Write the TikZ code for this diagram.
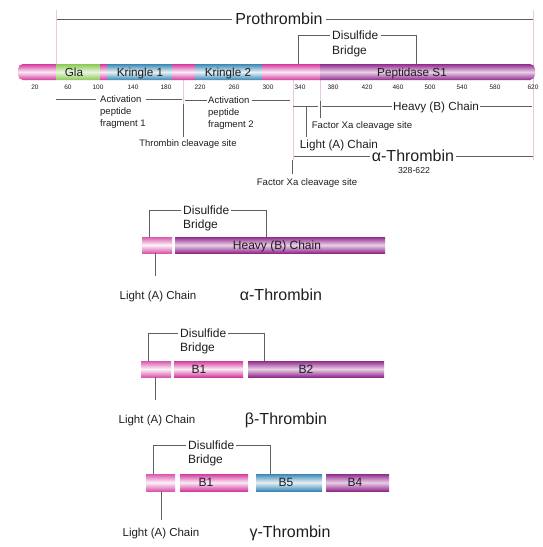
\documentclass[tikz,border=0pt]{standalone}
\usepackage{fontspec}
\setmainfont{Liberation Sans}
\definecolor{pk}{RGB}{212,58,158}
\definecolor{pu}{RGB}{146,42,142}
\definecolor{bl}{RGB}{58,136,182}
\definecolor{gr}{RGB}{138,200,84}
\definecolor{ln}{RGB}{95,95,95}
\definecolor{tx}{RGB}{30,30,30}
\definecolor{fp}{RGB}{242,196,228}
\tikzset{
  lbl/.style={inner sep=0pt, text=tx},
  ft/.style 2 args={font=\fontsize{#1}{#1}\selectfont, text height=#2, text depth=0pt},
  cl/.style={draw=ln, line width=0.6pt},
  fl/.style={draw=fp, line width=0.6pt},
  pbar/.style={top color=pk, bottom color=pk, middle color=pk!10},
  lbar/.style={top color=pk!85, bottom color=pk!85, middle color=pk!6},
  ubar/.style={top color=pu, bottom color=pu, middle color=pu!22},
  bbar/.style={top color=bl, bottom color=bl, middle color=bl!12},
  gbar/.style={top color=gr, bottom color=gr, middle color=gr!18},
}
\begin{document}
\begin{tikzpicture}[x=1pt,y=-1pt]
\useasboundingbox (0,0) rectangle (543,547);
% faint guide lines
\draw[fl] (56,10) -- (56,64);
\draw[fl] (533,10) -- (533,160);
\draw[fl] (183,80) -- (183,104);
\draw[fl] (293,80) -- (293,160);
\draw[fl] (320,80) -- (320,101);
% main bar
\begin{scope}
\clip[rounded corners=5pt] (18,64) rectangle (535,80);
\path[pbar] (18,64) rectangle (56,80);
\path[gbar] (56,64) rectangle (100,80);
\path[pbar] (100,64) rectangle (107,80);
\path[bbar] (107,64) rectangle (172,80);
\path[pbar] (172,64) rectangle (195,80);
\path[bbar] (195,64) rectangle (262,80);
\path[pbar] (262,64) rectangle (320,80);
\path[ubar] (320,64) rectangle (535,80);
\end{scope}
\node[lbl, ft={11.7}{8.4pt}] (gla) at (74,72) {Gla};
\node[lbl, ft={11.7}{8.4pt}] (kr1) at (140,72) {Kringle 1};
\node[lbl, ft={11.7}{8.4pt}] (kr2) at (228,72) {Kringle 2};
\node[lbl, ft={11.7}{8.4pt}] (pep) at (412,72) {Peptidase S1};
% ticks
\foreach \v/\xx in {20/35,60/68,100/98,140/133,180/166,220/200,260/234,300/268,340/300,380/333,420/367,460/398,500/430,540/462,580/495,620/533}
  \node[lbl, ft={6.5}{4.7pt}] (t\v) at (\xx,87) {\v};
% Prothrombin
\node[lbl, ft={16}{11.5pt}, inner xsep=3pt] (pro) at (279,19) {Prothrombin};
\coordinate (proL) at (57,19);
\coordinate (proR) at (533,19);
\draw[cl] (proL) -- (pro.west);
\draw[cl] (pro.east) -- (proR);
% Disulfide bridge (top)
\node[lbl, ft={12}{8.6pt}, anchor=west] (ds0) at (332,35) {Disulfide};
\node[lbl, ft={12}{8.6pt}, anchor=west] (db0) at (332,50) {Bridge};
\coordinate (dsL0) at (298,64);
\coordinate (dsR0) at (416,64);
\draw[cl] (dsL0) |- ([xshift=-2pt]ds0.west);
\draw[cl] ([xshift=3pt]ds0.east) -| (dsR0);
% Activation peptide fragment 1
\node[lbl, ft={9.5}{6.8pt}, anchor=west] (a1) at (100,99) {Activation};
\node[lbl, ft={9.5}{6.8pt}, anchor=west] (a1b) at (100,111) {peptide};
\node[lbl, ft={9.5}{6.8pt}, anchor=west] (a1c) at (100,123) {fragment 1};
\coordinate (a1L) at (56,99);
\coordinate (a1R) at (182,99);
\draw[cl] (a1L) -- ([xshift=-4pt]a1.west);
\draw[cl] ([xshift=4pt]a1.east) -- (a1R);
% Activation peptide fragment 2
\node[lbl, ft={9.5}{6.8pt}, anchor=west] (a2) at (208,100) {Activation};
\node[lbl, ft={9.5}{6.8pt}, anchor=west] (a2b) at (208,112) {peptide};
\node[lbl, ft={9.5}{6.8pt}, anchor=west] (a2c) at (208,124) {fragment 2};
\coordinate (a2L) at (185,100);
\coordinate (a2R) at (290,100);
\draw[cl] (a2L) -- ([xshift=-1pt]a2.west);
\draw[cl] ([xshift=2pt]a2.east) -- (a2R);
% Thrombin cleavage site
\node[lbl, ft={9.4}{6.8pt}] (tcs) at (188,143) {Thrombin cleavage site};
\coordinate (tc1) at (183,104);
\coordinate (tc2) at (183,137);
\draw[cl] (tc1) -- (tc2);
% Heavy (B) chain line
\node[lbl, ft={11.7}{8.4pt}, inner xsep=1pt] (hv) at (436,106) {Heavy (B) Chain};
\coordinate (lcS) at (293,106);
\coordinate (lcE) at (318,106);
\coordinate (hvS) at (322,106);
\coordinate (hvE) at (532,106);
\draw[cl] (lcS) -- (lcE);
\draw[cl] (hvS) -- (hv.west);
\draw[cl] (hv.east) -- (hvE);
% Light (A) chain
\node[lbl, ft={11.7}{8.4pt}] (lc) at (339,144) {Light (A) Chain};
\coordinate (lcA) at (306,106);
\coordinate (lcB) at (306,137);
\draw[cl] (lcA) -- (lcB);
% Factor Xa cleavage site (upper)
\node[lbl, ft={9.6}{6.9pt}] (fx1) at (362,125) {Factor Xa cleavage site};
\coordinate (fx1a) at (320,101);
\coordinate (fx1b) at (320,118);
\draw[cl] (fx1a) -- (fx1b);
% alpha-thrombin range
\node[lbl, ft={16}{11.5pt}, inner xsep=2pt] (ath) at (413,156) {α-Thrombin};
\node[lbl, ft={8.7}{6.2pt}] (rng) at (414,170) {328-622};
\coordinate (athL) at (294,156);
\coordinate (athR) at (533,156);
\draw[cl] (athL) -- (ath.west);
\draw[cl] (ath.east) -- (athR);
% Factor Xa cleavage site (lower)
\node[lbl, ft={9.6}{6.9pt}] (fx2) at (307,182) {Factor Xa cleavage site};
\coordinate (fx2a) at (292,160);
\coordinate (fx2b) at (292,174);
\draw[cl] (fx2a) -- (fx2b);

% ===== alpha-thrombin =====
\path[lbar] (142,237) rectangle (172,253);
\path[ubar] (175,237) rectangle (385,253);
\node[lbl, ft={12}{8.6pt}] (ahv) at (277,245) {Heavy (B) Chain};
\node[lbl, ft={12}{8.6pt}, anchor=west] (ds1) at (183,210) {Disulfide};
\node[lbl, ft={12}{8.6pt}, anchor=west] (db1) at (183,224) {Bridge};
\coordinate (dsL1) at (149,237);
\coordinate (dsR1) at (266,237);
\draw[cl] (dsL1) |- ([xshift=-2pt]ds1.west);
\draw[cl] ([xshift=2pt]ds1.east) -| (dsR1);
\coordinate (lA1) at (155,253);
\coordinate (lB1) at (155,276);
\draw[cl] (lA1) -- (lB1);
\node[lbl, ft={11.5}{8.3pt}] (lt1) at (158,295) {Light (A) Chain};
\node[lbl, ft={16}{11.5pt}] (nm1) at (281,295) {α-Thrombin};

% ===== beta-thrombin =====
\path[lbar] (141,361) rectangle (171,377);
\path[pbar] (174,361) rectangle (243,377);
\path[ubar] (248,361) rectangle (384,377);
\node[lbl, ft={12}{8.6pt}] (b1) at (199,369) {B1};
\node[lbl, ft={12}{8.6pt}] (b2) at (306,369) {B2};
\node[lbl, ft={12}{8.6pt}, anchor=west] (ds2) at (180,333) {Disulfide};
\node[lbl, ft={12}{8.6pt}, anchor=west] (db2) at (180,347) {Bridge};
\coordinate (dsL2) at (148,361);
\coordinate (dsR2) at (264,361);
\draw[cl] (dsL2) |- ([xshift=-2pt]ds2.west);
\draw[cl] ([xshift=2pt]ds2.east) -| (dsR2);
\coordinate (lA2) at (155,377);
\coordinate (lB2) at (155,400);
\draw[cl] (lA2) -- (lB2);
\node[lbl, ft={11.5}{8.3pt}] (lt2) at (157,419) {Light (A) Chain};
\node[lbl, ft={16}{11.5pt}] (nm2) at (286,419) {β-Thrombin};

% ===== gamma-thrombin =====
\path[lbar] (146,474) rectangle (175,491);
\path[pbar] (180,474) rectangle (248,491);
\path[bbar] (256,474) rectangle (322,491);
\path[ubar] (326,474) rectangle (389,491);
\node[lbl, ft={12}{8.6pt}] (g1) at (206,482) {B1};
\node[lbl, ft={12}{8.6pt}] (g5) at (286,482) {B5};
\node[lbl, ft={12}{8.6pt}] (g4) at (355,482) {B4};
\node[lbl, ft={12}{8.6pt}, anchor=west] (ds3) at (188,445) {Disulfide};
\node[lbl, ft={12}{8.6pt}, anchor=west] (db3) at (188,459) {Bridge};
\coordinate (dsL3) at (153,474);
\coordinate (dsR3) at (270,474);
\draw[cl] (dsL3) |- ([xshift=-2pt]ds3.west);
\draw[cl] ([xshift=2pt]ds3.east) -| (dsR3);
\coordinate (lA3) at (161,491);
\coordinate (lB3) at (161,520);
\draw[cl] (lA3) -- (lB3);
\node[lbl, ft={11.5}{8.3pt}] (lt3) at (161,532) {Light (A) Chain};
\node[lbl, ft={16}{11.5pt}] (nm3) at (290,532) {γ-Thrombin};
\end{tikzpicture}
\end{document}
